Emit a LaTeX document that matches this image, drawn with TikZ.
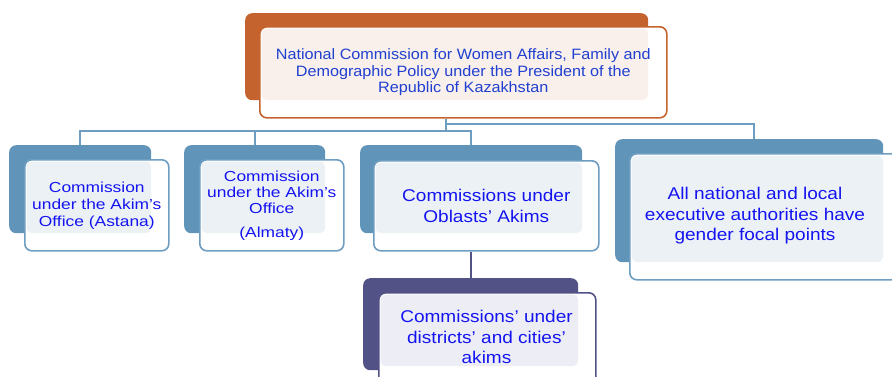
\documentclass[tikz,border=0pt]{standalone}
\usepackage{fontspec}
\setmainfont{Liberation Sans}
\newfontfamily\fTop[FakeStretch=1.08]{Liberation Sans}
\newfontfamily\fSmall[FakeStretch=1.2]{Liberation Sans}
\newfontfamily\fBig[FakeStretch=1.12]{Liberation Sans}
\definecolor{orgC}{HTML}{C5632E}
\definecolor{bluC}{HTML}{6094B8}
\definecolor{bluL}{HTML}{6E9DC2}
\definecolor{purC}{HTML}{535286}
\definecolor{txtB}{HTML}{1414F0}
\definecolor{txtT}{HTML}{2040D0}
\definecolor{tintO}{HTML}{F9EFEB}
\definecolor{tintB}{HTML}{ECF1F6}
\definecolor{tintP}{HTML}{EDEEF5}
\begin{document}
\begin{tikzpicture}[x=1pt,y=-1pt,
  backbox/.style={anchor=north west, inner sep=0pt, rounded corners=7pt, draw=none},
  frontbox/.style={anchor=north west, inner sep=0pt, rounded corners=7pt, fill=white, line width=1.6pt},
  tint/.style={rounded corners=5pt},
  lbl/.style={align=center, inner sep=0pt},
  small/.style={lbl, font=\fSmall\fontsize{14.5pt}{17pt}\selectfont, text=txtB},
  big/.style={lbl, font=\fBig\fontsize{17pt}{20.5pt}\selectfont, text=txtB},
  conn/.style={draw=bluL, line width=1.8pt},
  connP/.style={draw=purC, line width=2pt}]
\useasboundingbox (0,0) rectangle (892,376);
% top
\node[backbox, fill=orgC, minimum width=403pt, minimum height=87pt] (tbk) at (245,13) {};
\node[frontbox, draw=orgC, minimum width=407pt, minimum height=91pt] (tf) at (259,26) {};
\fill[tint, tintO] (261.5,28.5) rectangle (648,100);
\node[lbl, font=\fTop\fontsize{15pt}{16.5pt}\selectfont, text=txtT] (tt) at (tf.center)
  {National Commission for Women Affairs, Family and\\Demographic Policy under the President of the\\Republic of Kazakhstan};
% Astana
\node[backbox, fill=bluC, minimum width=142pt, minimum height=88pt] (abk) at (9,145) {};
\node[frontbox, draw=bluL, minimum width=144pt, minimum height=91pt] (af) at (24,159) {};
\fill[tint, tintB] (26.5,161.5) rectangle (151,233);
\node[small] (at) at (af.center) {Commission\\under the Akim’s\\Office (Astana)};
% Almaty
\node[backbox, fill=bluC, minimum width=141pt, minimum height=88pt] (lbk) at (184,145) {};
\node[frontbox, draw=bluL, minimum width=144pt, minimum height=91pt] (lf) at (199,159) {};
\fill[tint, tintB] (201.5,161.5) rectangle (325,233);
\node[small, font=\fSmall\fontsize{14.5pt}{16pt}\selectfont] (lt) at (lf.center) {Commission\\under the Akim’s\\Office\\[8pt](Almaty)};
% Oblasts
\node[backbox, fill=bluC, minimum width=222pt, minimum height=88pt] (obk) at (360,145) {};
\node[frontbox, draw=bluL, minimum width=225pt, minimum height=90pt] (of) at (373,160) {};
\fill[tint, tintB] (375.5,162.5) rectangle (582,233);
\node[big] (ot) at (of.center) {Commissions under\\Oblasts’ Akims};
% All national
\node[backbox, fill=bluC, minimum width=268pt, minimum height=123pt] (nbk) at (615,139) {};
\node[frontbox, draw=bluL, minimum width=300pt, minimum height=126pt] (nf) at (629,153) {};
\fill[tint, tintB, rounded corners=6pt] (631.5,155.5) rectangle (883,262);
\node[big] (nt) at (755,216) {All national and local\\executive authorities have\\gender focal points};
% Districts
\node[backbox, fill=purC, minimum width=215pt, minimum height=92pt] (dbk) at (363,278) {};
\node[frontbox, draw=purC, minimum width=217pt, minimum height=100pt] (df) at (378,292) {};
\fill[tint, tintP] (380.5,294.5) rectangle (578,366);
\node[big] (dt) at (486.5,337) {Commissions’ under\\districts’ and cities’\\akims};
% connectors
\coordinate (hub) at (446,131);
\coordinate (hubR) at (446,124);
\draw[conn] (tf.south -| hub) -- (hub);
\draw[conn] (abk.north) |- (hub);
\draw[conn] (lbk.north) |- (hub);
\draw[conn] (obk.north) |- (hub);
\draw[conn] (hubR) -| ([xshift=5pt]nbk.north);
\draw[connP] (of.south -| dbk.north) -- (dbk.north);
\end{tikzpicture}
\end{document}
